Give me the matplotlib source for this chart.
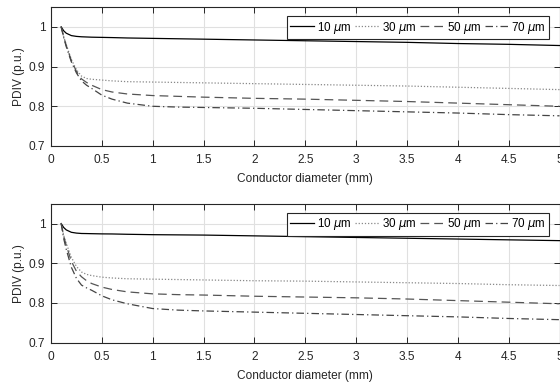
import matplotlib
matplotlib.use("Agg")
import matplotlib.pyplot as plt

plt.rcParams['font.family'] = ['Liberation Sans', 'DejaVu Sans']
plt.rcParams['mathtext.fontset'] = 'dejavusans'

x = [0.1, 0.125, 0.15, 0.2, 0.25, 0.3, 0.35, 0.4, 0.5, 0.6, 0.75, 1, 1.25, 1.5, 2, 2.5, 3, 3.5, 4, 4.5, 5]

top_10 = [1.0, 0.99, 0.984, 0.978, 0.976, 0.975, 0.9745, 0.974, 0.9735, 0.973, 0.972, 0.971, 0.970, 0.969, 0.967, 0.965, 0.963, 0.961, 0.958, 0.956, 0.953]
top_30 = [1.0, 0.975, 0.955, 0.918, 0.892, 0.876, 0.870, 0.868, 0.866, 0.864, 0.862, 0.861, 0.860, 0.859, 0.857, 0.855, 0.853, 0.851, 0.848, 0.845, 0.842]
top_50 = [1.0, 0.975, 0.953, 0.915, 0.888, 0.869, 0.860, 0.853, 0.842, 0.836, 0.831, 0.827, 0.825, 0.823, 0.820, 0.818, 0.815, 0.812, 0.808, 0.804, 0.800]
top_70 = [1.0, 0.973, 0.950, 0.912, 0.884, 0.864, 0.853, 0.845, 0.828, 0.818, 0.808, 0.800, 0.798, 0.797, 0.795, 0.792, 0.789, 0.786, 0.783, 0.779, 0.776]

bot_10 = [1.0, 0.99, 0.984, 0.978, 0.976, 0.975, 0.9748, 0.9745, 0.974, 0.9738, 0.973, 0.972, 0.9715, 0.971, 0.969, 0.967, 0.965, 0.963, 0.961, 0.959, 0.957]
bot_30 = [1.0, 0.97, 0.95, 0.915, 0.892, 0.878, 0.872, 0.869, 0.865, 0.863, 0.861, 0.860, 0.859, 0.858, 0.856, 0.855, 0.853, 0.851, 0.849, 0.846, 0.844]
bot_50 = [1.0, 0.968, 0.945, 0.905, 0.88, 0.866, 0.856, 0.849, 0.840, 0.834, 0.828, 0.823, 0.821, 0.820, 0.817, 0.815, 0.813, 0.810, 0.806, 0.802, 0.798]
bot_70 = [1.0, 0.962, 0.935, 0.89, 0.862, 0.845, 0.838, 0.832, 0.818, 0.808, 0.798, 0.786, 0.782, 0.780, 0.777, 0.774, 0.771, 0.768, 0.765, 0.761, 0.758]

labels = [r'10 $\mu$m', r'30 $\mu$m', r'50 $\mu$m', r'70 $\mu$m']
xticks = [0, 0.5, 1, 1.5, 2, 2.5, 3, 3.5, 4, 4.5, 5]
xticklabels = ['0', '0.5', '1', '1.5', '2', '2.5', '3', '3.5', '4', '4.5', '5']
yticks = [0.7, 0.8, 0.9, 1.0]
yticklabels = ['0.7', '0.8', '0.9', '1']

styles = [
    dict(color='#000000', linestyle='-', linewidth=0.9),
    dict(color='#888888', linestyle=(0, (1, 1.5)), linewidth=0.9),
    dict(color='#555555', linestyle=(0, (7, 4)), linewidth=0.9),
    dict(color='#444444', linestyle=(0, (6, 2.5, 1, 2.5)), linewidth=0.9),
]

FS = 8.6

fig = plt.figure(figsize=(5.6, 3.83), dpi=100)
ax1 = fig.add_axes([51/560, 1-146/383, 508.5/560, 139/383])
ax2 = fig.add_axes([51/560, 1-342.7/383, 508.5/560, 139/383])

for ax, series in [(ax1, [top_10, top_30, top_50, top_70]), (ax2, [bot_10, bot_30, bot_50, bot_70])]:
    for s, st, lab in zip(series, styles, labels):
        ax.plot(x, s, label=lab, **st)
    ax.set_xlim(0, 5)
    ax.set_ylim(0.7, 1.05)
    ax.set_xticks(xticks)
    ax.set_xticklabels(xticklabels)
    ax.set_yticks(yticks)
    ax.set_yticklabels(yticklabels)
    ax.grid(True, color='#e0e0e0', linewidth=0.8)
    ax.set_axisbelow(True)
    ax.tick_params(direction='in', top=True, right=True, length=4, width=0.7,
                   labelsize=FS, colors='#262626', labelcolor='#262626')
    ax.tick_params(axis='x', pad=6)
    ax.tick_params(axis='y', pad=4)
    for sp in ax.spines.values():
        sp.set_color('#262626')
        sp.set_linewidth(0.8)
    ax.set_xlabel('Conductor diameter (mm)', fontsize=FS, color='#262626', labelpad=5)
    ax.set_ylabel('PDIV (p.u.)', fontsize=FS, color='#262626', labelpad=3)
    leg = ax.legend(loc='upper right', ncol=4, fontsize=8.4, handlelength=2.0,
                    handletextpad=0.3, columnspacing=0.3, borderpad=0.3,
                    fancybox=False, framealpha=1, edgecolor='#262626',
                    bbox_to_anchor=(0.98, 0.935), borderaxespad=0)
    leg.get_frame().set_linewidth(0.8)

fig.savefig('out.png', dpi=100)
